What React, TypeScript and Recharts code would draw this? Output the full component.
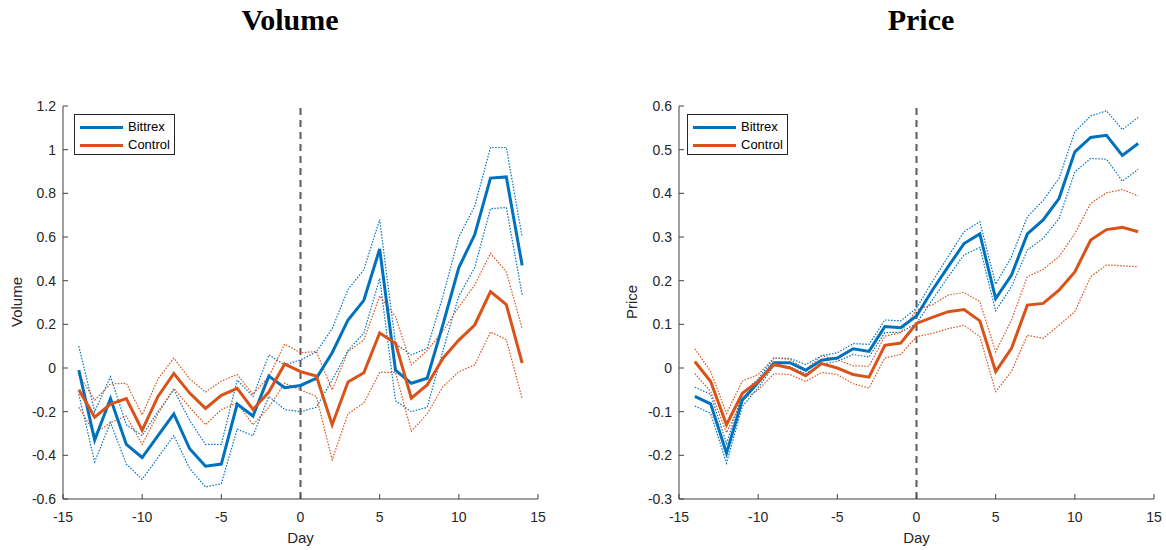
import React from 'react';
import { LineChart, Line, XAxis, YAxis, ReferenceLine } from 'recharts';

const days = [-14, -13, -12, -11, -10, -9, -8, -7, -6, -5, -4, -3, -2, -1, 0, 1, 2, 3, 4, 5, 6, 7, 8, 9, 10, 11, 12, 13, 14];

// Volume panel
const volBittrex = [-0.01, -0.33, -0.14, -0.35, -0.41, -0.31, -0.21, -0.37, -0.45, -0.44, -0.165, -0.22, -0.037, -0.09, -0.08, -0.047, 0.07, 0.22, 0.31, 0.545, -0.01, -0.07, -0.047, 0.2, 0.46, 0.61, 0.87, 0.875, 0.47];
const volBittrexHi = [0.1, -0.2, -0.04, -0.26, -0.31, -0.2, -0.1, -0.24, -0.35, -0.35, -0.055, -0.13, 0.06, 0.014, 0.037, 0.074, 0.18, 0.36, 0.45, 0.68, 0.11, 0.06, 0.09, 0.33, 0.6, 0.74, 1.01, 1.01, 0.6];
const volBittrexLo = [-0.12, -0.43, -0.25, -0.44, -0.51, -0.41, -0.31, -0.46, -0.545, -0.53, -0.28, -0.31, -0.13, -0.19, -0.2, -0.18, -0.055, 0.08, 0.16, 0.41, -0.15, -0.2, -0.18, 0.08, 0.33, 0.46, 0.73, 0.735, 0.335];
const volControl = [-0.1, -0.225, -0.165, -0.14, -0.285, -0.13, -0.025, -0.115, -0.185, -0.125, -0.093, -0.19, -0.11, 0.018, -0.017, -0.037, -0.26, -0.064, -0.022, 0.16, 0.113, -0.138, -0.078, 0.045, 0.128, 0.197, 0.35, 0.29, 0.022];
const volControlHi = [-0.03, -0.147, -0.073, -0.07, -0.215, -0.05, 0.045, -0.05, -0.11, -0.06, -0.03, -0.12, -0.04, 0.11, 0.07, 0.075, -0.1, 0.075, 0.128, 0.33, 0.235, 0.014, 0.08, 0.17, 0.28, 0.38, 0.525, 0.44, 0.18];
const volControlLo = [-0.18, -0.3, -0.25, -0.22, -0.35, -0.21, -0.093, -0.18, -0.26, -0.19, -0.16, -0.26, -0.18, -0.07, -0.1, -0.13, -0.42, -0.21, -0.16, -0.02, -0.02, -0.29, -0.21, -0.085, -0.017, 0.014, 0.165, 0.13, -0.14];

// Price panel
const priceBittrex = [-0.065, -0.082, -0.195, -0.073, -0.033, 0.012, 0.012, -0.005, 0.018, 0.023, 0.044, 0.038, 0.095, 0.092, 0.119, 0.178, 0.232, 0.285, 0.307, 0.159, 0.213, 0.307, 0.339, 0.388, 0.495, 0.528, 0.533, 0.487, 0.514];
const priceBittrexHi = [-0.044, -0.06, -0.173, -0.058, -0.025, 0.023, 0.022, 0.008, 0.028, 0.035, 0.056, 0.054, 0.11, 0.108, 0.137, 0.198, 0.255, 0.312, 0.335, 0.192, 0.255, 0.346, 0.384, 0.434, 0.541, 0.577, 0.589, 0.546, 0.574];
const priceBittrexLo = [-0.087, -0.104, -0.218, -0.088, -0.045, 0.005, 0.003, -0.013, 0.009, 0.015, 0.031, 0.025, 0.081, 0.082, 0.102, 0.156, 0.209, 0.259, 0.276, 0.131, 0.186, 0.27, 0.297, 0.342, 0.449, 0.48, 0.478, 0.428, 0.455];
const priceControl = [0.015, -0.031, -0.13, -0.058, -0.031, 0.008, 0, -0.018, 0.01, 0, -0.015, -0.021, 0.052, 0.057, 0.102, 0.116, 0.129, 0.134, 0.108, -0.008, 0.045, 0.144, 0.148, 0.178, 0.22, 0.293, 0.317, 0.322, 0.312];
const priceControlHi = [0.044, -0.008, -0.104, -0.03, -0.015, 0.023, 0.02, -0.004, 0.028, 0.019, 0.005, 0.004, 0.073, 0.081, 0.133, 0.145, 0.167, 0.173, 0.152, 0.037, 0.11, 0.209, 0.226, 0.255, 0.308, 0.377, 0.401, 0.409, 0.394];
const priceControlLo = [-0.013, -0.054, -0.148, -0.073, -0.05, -0.013, -0.015, -0.031, -0.01, -0.015, -0.036, -0.046, 0.023, 0.031, 0.072, 0.079, 0.09, 0.098, 0.072, -0.054, -0.008, 0.075, 0.068, 0.098, 0.129, 0.209, 0.236, 0.234, 0.232];

const xTicks = [-15, -10, -5, 0, 5, 10, 15];
const volTicks = [-0.6, -0.4, -0.2, 0, 0.2, 0.4, 0.6, 0.8, 1, 1.2];
const priceTicks = [-0.3, -0.2, -0.1, 0, 0.1, 0.2, 0.3, 0.4, 0.5, 0.6];

const BLUE = '#0072BD';
const ORANGE = '#D95319';
const AXIS = '#404040';
const TEXT = '#262626';
const FONT = '"Liberation Sans", Arial, Helvetica, sans-serif';

const fmt = (v: number) => String(Number(v.toFixed(2)));

const buildRows = (b: number[], bHi: number[], bLo: number[], c: number[], cHi: number[], cLo: number[]) =>
  days.map((d, i) => ({ day: d, b: b[i], bHi: bHi[i], bLo: bLo[i], c: c[i], cHi: cHi[i], cLo: cLo[i] }));

const volRows = buildRows(volBittrex, volBittrexHi, volBittrexLo, volControl, volControlHi, volControlLo);
const priceRows = buildRows(priceBittrex, priceBittrexHi, priceBittrexLo, priceControl, priceControlHi, priceControlLo);

const Y_GAP = 7;
const X_GAP = 13;

// ticks point inward like MATLAB, labels stay outside
const YTick = (props: any) => {
  const { x, y, payload } = props;
  const ax = x + Y_GAP;
  return (
    <g>
      <line x1={ax} x2={ax + 5} y1={y} y2={y} stroke={AXIS} strokeWidth={1} />
      <text x={x} y={y} textAnchor="end" dominantBaseline="central" fill={TEXT} fontSize={14} fontFamily={FONT}>
        {fmt(payload.value)}
      </text>
    </g>
  );
};

const XTick = (props: any) => {
  const { x, y, payload } = props;
  const ay = y - X_GAP;
  return (
    <g>
      <line x1={x} x2={x} y1={ay} y2={ay - 5} stroke={AXIS} strokeWidth={1} />
      <text x={x} y={y} dy="0.71em" textAnchor="middle" fill={TEXT} fontSize={14} fontFamily={FONT}>
        {payload.value}
      </text>
    </g>
  );
};

interface PanelProps {
  left: number;
  title: string;
  titleX: number;
  yLabel: string;
  yLabelX: number;
  yLabelY: number;
  rows: any[];
  domain: [number, number];
  ticks: number[];
  margin: { top: number; right: number; bottom: number; left: number };
  legendX: number;
}

const Y_W = 50;
const X_H = 30;

const Panel: React.FC<PanelProps> = ({ left, title, titleX, yLabel, yLabelX, yLabelY, rows, domain, ticks, margin, legendX }) => {
  const plotLeft = margin.left + Y_W;
  const plotCenter = plotLeft + (583 - plotLeft - margin.right) / 2;
  return (
    <div style={{ position: 'absolute', left, top: 0, width: 583, height: 550 }}>
      <div style={{ position: 'absolute', left: titleX - left - 100, top: 3, width: 200, textAlign: 'center', fontFamily: '"Liberation Serif", "Times New Roman", serif', fontWeight: 'bold', fontSize: 30, lineHeight: '34px', color: '#000' }}>
        {title}
      </div>
      <div style={{ position: 'absolute', left: yLabelX - left - 50, top: yLabelY - 9, width: 100, height: 18, lineHeight: '18px', textAlign: 'center', transform: 'rotate(-90deg)', fontFamily: FONT, fontSize: 15, color: TEXT }}>
        {yLabel}
      </div>
      <div style={{ position: 'absolute', left: plotCenter - 50, top: 529, width: 100, lineHeight: '18px', textAlign: 'center', fontFamily: FONT, fontSize: 15, color: TEXT }}>
        Day
      </div>
      <LineChart width={583} height={550} data={rows} margin={margin}>
        <XAxis
          dataKey="day"
          type="number"
          domain={[-15, 15]}
          ticks={xTicks}
          height={X_H}
          tickSize={0}
          tickMargin={X_GAP}
          tickLine={false}
          axisLine={{ stroke: AXIS, strokeWidth: 1 }}
          tick={<XTick />}
          interval={0}
        />
        <YAxis
          type="number"
          domain={domain}
          ticks={ticks}
          width={Y_W}
          tickSize={0}
          tickMargin={Y_GAP}
          tickLine={false}
          axisLine={{ stroke: AXIS, strokeWidth: 1 }}
          tick={<YTick />}
          interval={0}
          allowDataOverflow
        />
        <ReferenceLine x={0} stroke="#5a5a5a" strokeWidth={2} strokeDasharray="7 5" />
        <Line type="linear" dataKey="bHi" stroke={BLUE} strokeWidth={1.2} strokeDasharray="1.5 1.5" dot={false} isAnimationActive={false} />
        <Line type="linear" dataKey="bLo" stroke={BLUE} strokeWidth={1.2} strokeDasharray="1.5 1.5" dot={false} isAnimationActive={false} />
        <Line type="linear" dataKey="cHi" stroke={ORANGE} strokeWidth={1.2} strokeDasharray="1.5 1.5" dot={false} isAnimationActive={false} />
        <Line type="linear" dataKey="cLo" stroke={ORANGE} strokeWidth={1.2} strokeDasharray="1.5 1.5" dot={false} isAnimationActive={false} />
        <Line type="linear" dataKey="b" stroke={BLUE} strokeWidth={3} dot={false} isAnimationActive={false} />
        <Line type="linear" dataKey="c" stroke={ORANGE} strokeWidth={3} dot={false} isAnimationActive={false} />
      </LineChart>
      <div style={{ position: 'absolute', left: legendX - left, top: 114, width: 99, height: 39, border: '1px solid #262626', background: '#fff', fontFamily: FONT, fontSize: 13, color: '#000' }}>
        {[{ name: 'Bittrex', color: BLUE }, { name: 'Control', color: ORANGE }].map((e, i) => (
          <div key={e.name} style={{ position: 'absolute', left: 5, top: 4 + i * 18, height: 16, display: 'flex', alignItems: 'center' }}>
            <div style={{ width: 43, height: 3, background: e.color }} />
            <span style={{ marginLeft: 5, lineHeight: '16px' }}>{e.name}</span>
          </div>
        ))}
      </div>
    </div>
  );
};

export default function App() {
  return (
    <div style={{ position: 'absolute', left: 0, top: 0, width: 1166, height: 550, background: '#fff' }}>
      <Panel
        left={0}
        title="Volume"
        titleX={290}
        yLabel="Volume"
        yLabelX={17}
        yLabelY={302}
        rows={volRows}
        domain={[-0.6, 1.2]}
        ticks={volTicks}
        margin={{ top: 106, right: 45, bottom: 51 - X_H, left: 63 - Y_W }}
        legendX={74}
      />
      <Panel
        left={583}
        title="Price"
        titleX={921}
        yLabel="Price"
        yLabelX={632}
        yLabelY={302}
        rows={priceRows}
        domain={[-0.3, 0.6]}
        ticks={priceTicks}
        margin={{ top: 106, right: 12, bottom: 51 - X_H, left: 96 - Y_W }}
        legendX={687}
      />
    </div>
  );
}
